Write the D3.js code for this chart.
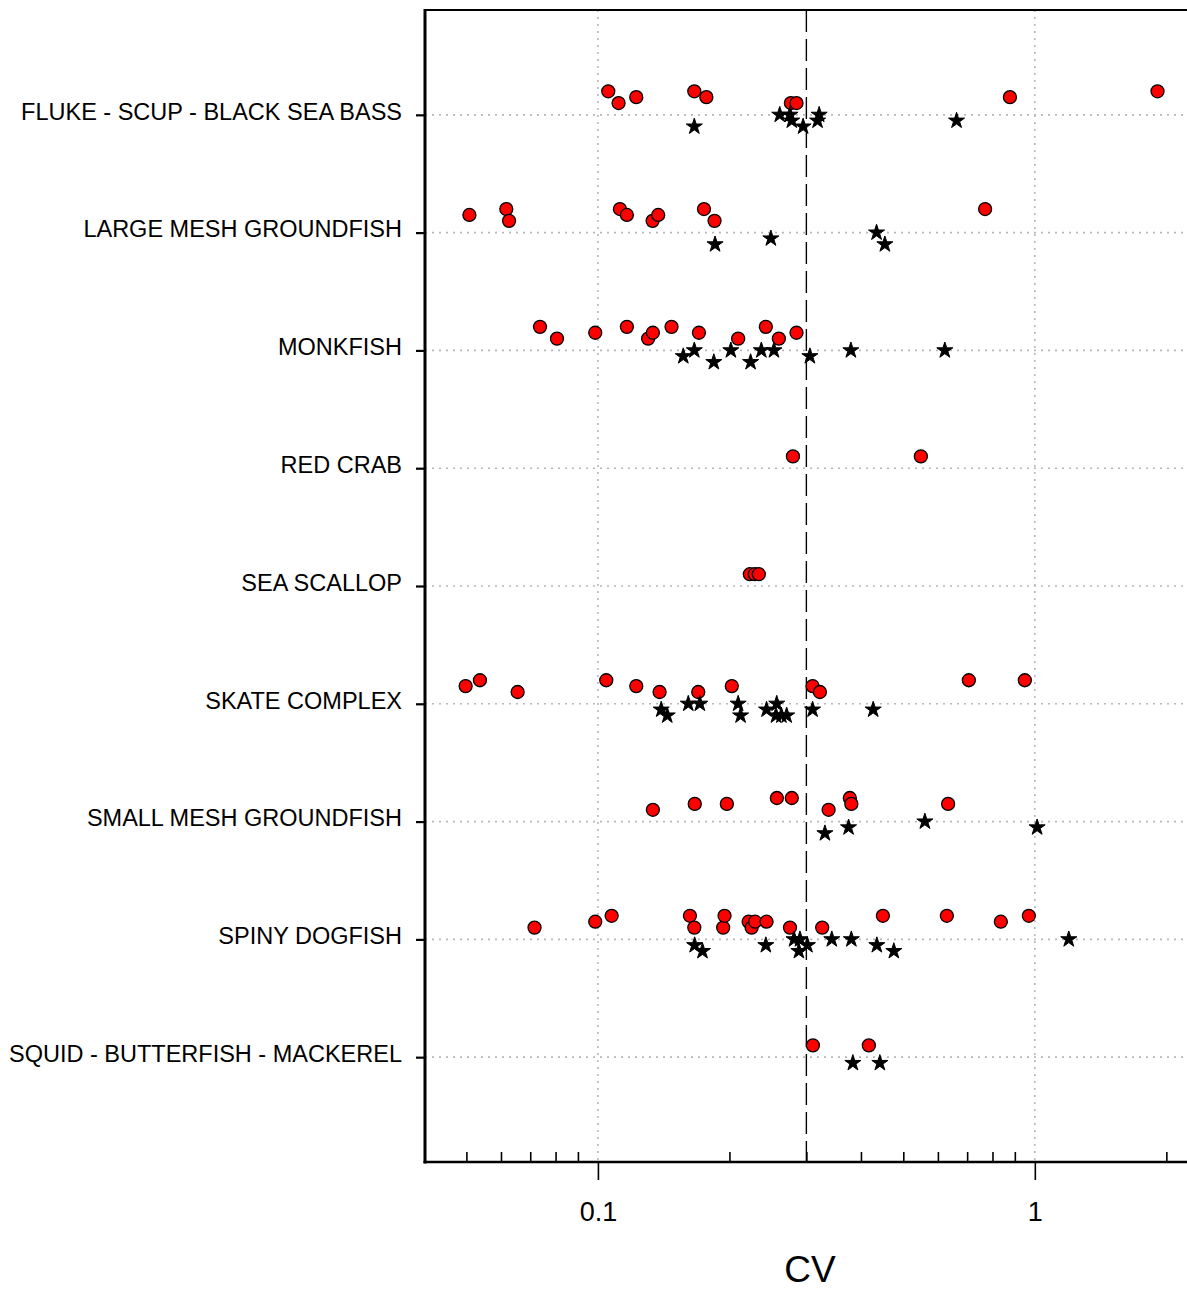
<!DOCTYPE html>
<html>
<head>
<meta charset="utf-8">
<script src="https://cdn.jsdelivr.net/npm/d3@7"></script>
<style>
  html, body { margin: 0; padding: 0; background: #fff; }
  svg { display: block; font-family: "Liberation Sans", Arial, sans-serif; }
</style>
</head>
<body>
<svg id="chart" width="1187" height="1290"></svg>
<script>
// ---------------- DATA ----------------
const categories = [
  "FLUKE - SCUP - BLACK SEA BASS",
  "LARGE MESH GROUNDFISH",
  "MONKFISH",
  "RED CRAB",
  "SEA SCALLOP",
  "SKATE COMPLEX",
  "SMALL MESH GROUNDFISH",
  "SPINY DOGFISH",
  "SQUID - BUTTERFISH - MACKEREL"
];

// Series drawn as red circles: CV values per category
const circleCV = [
  [0.1056, 0.1115, 0.1224, 0.1662, 0.1771, 0.2765, 0.2848, 0.877, 1.909],
  [0.0508, 0.0617, 0.0626, 0.1123, 0.1165, 0.1334, 0.1374, 0.1749, 0.1849, 0.7695],
  [0.0737, 0.0806, 0.0986, 0.1165, 0.1303, 0.1336, 0.1474, 0.1703, 0.2094, 0.2423, 0.2595, 0.2848],
  [0.2795, 0.5485],
  [0.2227, 0.2286, 0.2335],
  [0.0498, 0.0537, 0.0655, 0.1045, 0.1224, 0.1384, 0.1697, 0.2025, 0.3100, 0.3222, 0.7063, 0.9487],
  [0.1336, 0.1666, 0.1973, 0.2568, 0.2778, 0.3373, 0.3772, 0.3802, 0.6332],
  [0.0716, 0.0986, 0.1075, 0.1624, 0.1662, 0.1935, 0.1949, 0.2213, 0.2248, 0.2290, 0.2432, 0.2752, 0.3261, 0.449, 0.629, 0.836, 0.9689],
  [0.3105, 0.417]
];
// Vertical jitter of each circle (in category units, negative = above the category line)
const circleJitter = [
  [-0.2, -0.1, -0.15, -0.2, -0.15, -0.1, -0.1, -0.15, -0.2],
  [-0.15, -0.2, -0.1, -0.2, -0.15, -0.1, -0.15, -0.2, -0.1, -0.2],
  [-0.2, -0.1, -0.15, -0.2, -0.1, -0.15, -0.2, -0.15, -0.1, -0.2, -0.1, -0.15],
  [-0.1, -0.1],
  [-0.1, -0.1, -0.1],
  [-0.15, -0.2, -0.1, -0.2, -0.15, -0.1, -0.1, -0.15, -0.15, -0.1, -0.2, -0.2],
  [-0.1, -0.15, -0.15, -0.2, -0.2, -0.1, -0.2, -0.15, -0.15],
  [-0.1, -0.15, -0.2, -0.2, -0.1, -0.1, -0.2, -0.15, -0.1, -0.15, -0.15, -0.1, -0.1, -0.2, -0.2, -0.15, -0.2],
  [-0.1, -0.1]
];

// Series drawn as black stars: CV values per category
const starCV = [
  [0.1662, 0.2607, 0.2752, 0.2778, 0.2949, 0.3209, 0.3182, 0.662],
  [0.1854, 0.2488, 0.4343, 0.4537],
  [0.1568, 0.1662, 0.1842, 0.2015, 0.2236, 0.2366, 0.2529, 0.3056, 0.3793, 0.6223],
  [],
  [],
  [0.1396, 0.1441, 0.161, 0.1711, 0.2094, 0.2121, 0.2432, 0.2566, 0.2556, 0.2630, 0.2704, 0.3100, 0.4266],
  [0.3308, 0.3747, 0.5602, 1.0122],
  [0.1665, 0.1735, 0.2423, 0.2811, 0.2900, 0.2884, 0.3017, 0.3430, 0.3802, 0.4349, 0.4757, 1.196],
  [0.3833, 0.4419]
];
const starJitter = [
  [0.1, 0, 0, 0.05, 0.1, 0, 0.05, 0.05],
  [0.1, 0.05, 0, 0.1],
  [0.05, 0, 0.1, 0, 0.1, 0, 0, 0.05, 0, 0],
  [],
  [],
  [0.05, 0.1, 0, 0, 0, 0.1, 0.05, 0, 0.1, 0.1, 0.1, 0.05, 0.05],
  [0.1, 0.05, 0, 0.05],
  [0.05, 0.1, 0.05, 0, 0, 0.1, 0.05, 0, 0, 0.05, 0.1, 0],
  [0.05, 0.05]
];

const majorTicks = [0.1, 1];
const majorTickLabels = ["0.1", "1"];
const minorTicks = [0.05, 0.06, 0.07, 0.08, 0.09, 0.2, 0.3, 0.4, 0.5, 0.6, 0.7, 0.8, 0.9, 2];
const referenceCV = 0.3;
const xDomain = [0.0402, 2.23];
const xTitle = "CV";

// ---------------- LAYOUT ----------------
const svg = d3.select("#chart");
const plot = { left: 425, right: 1187, top: 10, bottom: 1162 };

const x = d3.scaleLog().domain(xDomain).range([plot.left, plot.right]);
const y = d3.scalePoint().domain(d3.range(categories.length))
  .range([plot.top, plot.bottom]).padding(0.89);
const step = y.step();
const yPos = (ci, j) => y(ci) + j * step;

// Horizontal dotted grid at each category
svg.append("g").selectAll("line").data(d3.range(categories.length)).join("line")
  .attr("x1", plot.left).attr("x2", plot.right)
  .attr("y1", d => y(d)).attr("y2", d => y(d))
  .attr("stroke", "#b8b8b8").attr("stroke-width", 1.6)
  .attr("stroke-dasharray", "2,5");

// Vertical dotted grid at major ticks
svg.append("g").selectAll("line").data(majorTicks).join("line")
  .attr("x1", d => x(d)).attr("x2", d => x(d))
  .attr("y1", plot.top).attr("y2", plot.bottom)
  .attr("stroke", "#b8b8b8").attr("stroke-width", 1.6)
  .attr("stroke-dasharray", "2,5");

// Reference dashed line
svg.append("line")
  .attr("x1", x(referenceCV)).attr("x2", x(referenceCV))
  .attr("y1", plot.top).attr("y2", plot.bottom)
  .attr("stroke", "#000").attr("stroke-width", 1.4)
  .attr("stroke-dasharray", "22,7");

// Circles
const circleData = [];
circleCV.forEach((arr, ci) => arr.forEach((v, k) => circleData.push({ ci, v, j: circleJitter[ci][k] })));
svg.append("g").selectAll("circle").data(circleData).join("circle")
  .attr("cx", d => x(d.v)).attr("cy", d => yPos(d.ci, d.j))
  .attr("r", 6.5)
  .attr("fill", "#ff0000").attr("stroke", "#000").attr("stroke-width", 1.3);

// Stars
const starData = [];
starCV.forEach((arr, ci) => arr.forEach((v, k) => starData.push({ ci, v, j: starJitter[ci][k] })));
const star = d3.symbol().type(d3.symbolStar).size(80);
svg.append("g").selectAll("path").data(starData).join("path")
  .attr("d", star)
  .attr("transform", d => `translate(${x(d.v)},${yPos(d.ci, d.j)})`)
  .attr("fill", "#000").attr("stroke", "#000").attr("stroke-width", 1)
  .attr("stroke-linejoin", "round");

// Top frame line
svg.append("line")
  .attr("x1", plot.left).attr("x2", plot.right)
  .attr("y1", plot.top).attr("y2", plot.top)
  .attr("stroke", "#000").attr("stroke-width", 2.2);

// Left axis (categories)
const yAxis = d3.axisLeft(y).tickSize(9).tickPadding(14).tickFormat(i => categories[i]);
const gy = svg.append("g").attr("transform", `translate(${plot.left},0)`).call(yAxis);
gy.select(".domain").remove();
gy.selectAll(".tick line").attr("stroke", "#000").attr("stroke-width", 2.2);
gy.selectAll(".tick text").attr("font-size", 23.5).attr("fill", "#000").attr("dy", "0.18em")
  .attr("font-family", "'Liberation Sans', Arial, sans-serif");
svg.append("line")
  .attr("x1", plot.left).attr("x2", plot.left)
  .attr("y1", plot.top - 1).attr("y2", plot.bottom + 1.5)
  .attr("stroke", "#000").attr("stroke-width", 3);

// Bottom axis: major ticks (outside) with labels
const xAxisMajor = d3.axisBottom(x).tickValues(majorTicks).tickSize(18).tickPadding(22)
  .tickFormat((d, i) => majorTickLabels[i]);
const gx = svg.append("g").attr("transform", `translate(0,${plot.bottom})`).call(xAxisMajor);
gx.select(".domain").remove();
gx.selectAll(".tick line").attr("stroke", "#000").attr("stroke-width", 1.6);
gx.selectAll(".tick text").attr("font-size", 27).attr("fill", "#000")
  .attr("font-family", "'Liberation Sans', Arial, sans-serif");

// Bottom axis: minor ticks (inside)
const xAxisMinor = d3.axisBottom(x).tickValues(minorTicks).tickSize(-10).tickFormat("");
const gxm = svg.append("g").attr("transform", `translate(0,${plot.bottom})`).call(xAxisMinor);
gxm.select(".domain").remove();
gxm.selectAll(".tick line").attr("stroke", "#000").attr("stroke-width", 1.6);

svg.append("line")
  .attr("x1", plot.left - 1.5).attr("x2", plot.right)
  .attr("y1", plot.bottom).attr("y2", plot.bottom)
  .attr("stroke", "#000").attr("stroke-width", 2.6);

// X title
svg.append("text")
  .attr("x", (plot.left + plot.right) / 2 + 4).attr("y", 1282)
  .attr("text-anchor", "middle").attr("font-size", 37).attr("fill", "#000")
  .text(xTitle);
</script>
</body>
</html>
